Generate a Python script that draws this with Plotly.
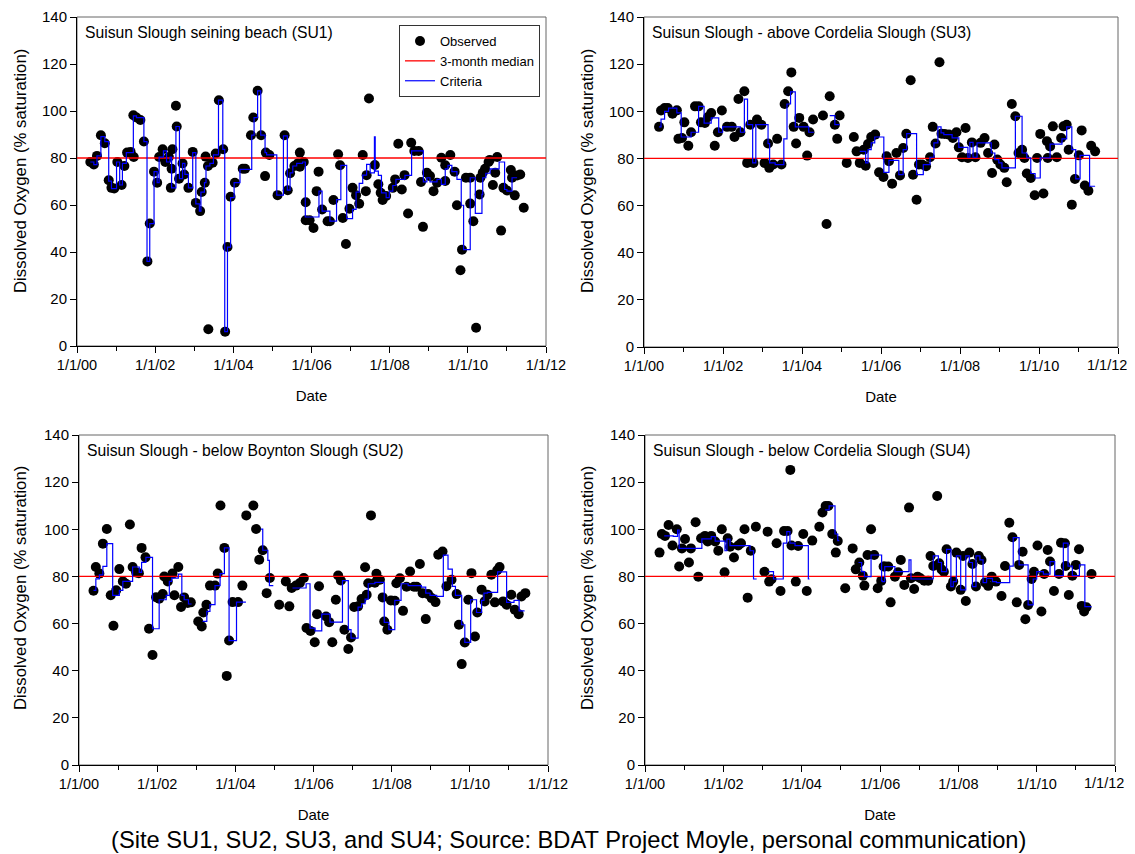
import datetime as dt
import plotly.graph_objects as go

# ---------------- DATA (decimal years, % saturation) ----------------
titles = [
    "Suisun Slough seining beach (SU1)",
    "Suisun Slough - above Cordelia Slough (SU3)",
    "Suisun Slough - below Boynton Slough (SU2)",
    "Suisun Slough - below Cordelia Slough (SU4)",
]
y_title = "Dissolved Oxygen (% saturation)"
x_title = "Date"
caption = "(Site SU1, SU2, SU3, and SU4; Source: BDAT Project Moyle, personal communication)"
threshold = 80
x_tick_labels_years = [2000, 2002, 2004, 2006, 2008, 2010, 2012]

# Panel 1 : SU1
su1_t = [2000.34, 2000.43, 2000.51, 2000.61, 2000.71, 2000.81, 2000.88, 2000.95, 2001.03, 2001.14,
         2001.21, 2001.28, 2001.37, 2001.45, 2001.44, 2001.52, 2001.62, 2001.71, 2001.80, 2001.86,
         2001.97, 2002.05, 2002.10, 2002.19, 2002.26, 2002.35, 2002.40, 2002.42, 2002.44, 2002.53,
         2002.55, 2002.61, 2002.70, 2002.74, 2002.85, 2002.96, 2003.04, 2003.15, 2003.19, 2003.27,
         2003.29, 2003.35, 2003.36, 2003.47, 2003.55, 2003.63, 2003.74, 2003.79, 2003.85, 2003.93,
         2004.04, 2004.24, 2004.30, 2004.45, 2004.51, 2004.62, 2004.71, 2004.83, 2004.81, 2004.92,
         2005.13, 2005.31, 2005.39, 2005.45, 2005.56, 2005.65, 2005.70, 2005.70, 2005.80, 2005.85,
         2005.85, 2005.95, 2006.05, 2006.18, 2006.13, 2006.27, 2006.41, 2006.47, 2006.56, 2006.68,
         2006.73, 2006.80, 2006.88, 2006.97, 2007.05, 2007.14, 2007.22, 2007.31, 2007.39, 2007.41,
         2007.47, 2007.62, 2007.71, 2007.77, 2007.82, 2007.91, 2008.08, 2008.14, 2008.22, 2008.31,
         2008.38, 2008.47, 2008.55, 2008.63, 2008.74, 2008.80, 2008.85, 2008.95, 2009.03, 2009.12,
         2009.21, 2009.32, 2009.42, 2009.42, 2009.55, 2009.66, 2009.72, 2009.81, 2009.85, 2009.95,
         2010.06, 2010.06, 2010.14, 2010.21, 2010.30, 2010.32, 2010.38, 2010.44, 2010.53, 2010.56,
         2010.64, 2010.70, 2010.75, 2010.85, 2010.91, 2011.00, 2011.10, 2011.13, 2011.20, 2011.26,
         2011.34, 2011.43]
su1_v = [78.3, 77.2, 80.9, 89.7, 86.3, 70.5, 67.3, 67.0, 78.3, 68.5,
         76.6, 82.3, 82.6, 80.4, 98.2, 97.2, 96.2, 87.0, 36.0, 52.1,
         74.2, 69.5, 80.4, 83.7, 78.3, 80.4, 67.3, 75.4, 83.7, 102.2,
         93.4, 71.2, 77.7, 73.0, 67.3, 82.6, 60.9, 57.4, 65.5, 69.5,
         80.6, 76.6, 7.1, 78.0, 81.9, 104.6, 83.7, 6.1, 42.1, 63.5,
         69.5, 75.4, 75.4, 89.7, 97.2, 108.6, 89.7, 82.3, 72.3, 81.3,
         64.2, 89.7, 66.3, 73.5, 76.6, 77.7, 82.3, 76.3, 78.3, 61.2,
         53.5, 53.5, 50.2, 74.2, 65.9, 58.1, 53.1, 53.1, 62.1, 81.6,
         76.9, 54.5, 43.4, 58.4, 67.3, 64.2, 60.5, 81.3, 65.9, 72.7,
         105.3, 77.0, 68.8, 65.2, 62.1, 63.8, 67.3, 70.9, 86.1, 66.6,
         72.7, 56.4, 86.5, 83.0, 83.0, 69.8, 50.7, 73.7, 72.3, 65.9,
         69.5, 80.1, 76.9, 70.2, 81.3, 74.2, 59.9, 32.2, 41.0, 71.6,
         71.6, 60.6, 53.1, 7.8, 64.5, 71.6, 73.7, 75.4, 78.3, 79.2,
         68.5, 73.7, 80.4, 49.1, 67.3, 66.2, 74.9, 71.6, 64.1, 72.6,
         73.0, 58.8]
su1_ct = [2000.34, 2000.43, 2000.51, 2000.61, 2000.71, 2000.81, 2000.88, 2001.01, 2001.09, 2001.16,
          2001.26, 2001.44, 2001.52, 2001.71, 2001.79, 2001.86, 2001.97, 2002.05, 2002.10, 2002.21,
          2002.29, 2002.38, 2002.42, 2002.53, 2002.62, 2002.70, 2002.76, 2002.85, 2002.96, 2003.04,
          2003.13, 2003.17, 2003.26, 2003.30, 2003.40, 2003.49, 2003.62, 2003.73, 2003.78, 2003.85,
          2003.93, 2004.02, 2004.17, 2004.47, 2004.53, 2004.62, 2004.70, 2004.81, 2004.85, 2005.11,
          2005.28, 2005.38, 2005.45, 2005.52, 2005.62, 2005.77, 2005.84, 2006.19, 2006.27, 2006.47,
          2006.64, 2006.75, 2006.90, 2007.05, 2007.14, 2007.22, 2007.31, 2007.41, 2007.50, 2007.61,
          2007.63, 2007.71, 2007.79, 2007.91, 2007.99, 2008.08, 2008.16, 2008.39, 2008.56, 2008.86,
          2008.95, 2009.03, 2009.21, 2009.32, 2009.42, 2009.49, 2009.59, 2009.72, 2009.83, 2009.89,
          2010.06, 2010.19, 2010.36, 2010.38, 2010.46, 2010.57, 2010.80, 2010.94, 2011.00, 2011.13,
          2011.26]
su1_cv = [78.3, 77.2, 80.9, 89.1, 87.0, 70.2, 67.0, 78.3, 68.5, 77.7,
          82.3, 97.9, 97.2, 87.0, 36.0, 52.1, 74.2, 69.5, 80.4, 83.0,
          78.3, 80.4, 67.3, 93.4, 71.2, 77.7, 73.0, 67.3, 82.3, 60.5,
          57.4, 65.5, 69.5, 76.6, 77.7, 81.3, 104.6, 83.7, 6.1, 42.1,
          63.1, 69.5, 75.2, 89.7, 97.2, 108.6, 89.7, 82.3, 81.3, 64.2,
          89.4, 66.3, 73.7, 76.6, 77.7, 78.3, 54.9, 65.9, 57.4, 53.1,
          62.3, 76.9, 54.2, 58.1, 65.5, 69.2, 72.7, 77.3, 73.7, 89.0,
          74.4, 72.6, 65.2, 63.1, 65.9, 68.3, 70.9, 72.6, 83.0, 69.8,
          71.6, 69.8, 70.9, 68.8, 75.4, 76.9, 74.2, 70.9, 59.9, 41.0,
          71.6, 56.4, 64.5, 71.6, 73.5, 75.4, 78.3, 66.6, 65.9, 71.6,
          71.6]

# Panel 2 : SU3
su3_t = [2000.38, 2000.43, 2000.52, 2000.60, 2000.72, 2000.83, 2000.87, 2000.96, 2001.02, 2001.12,
         2001.19, 2001.29, 2001.38, 2001.44, 2001.54, 2001.62, 2001.70, 2001.79, 2001.87, 2001.97,
         2002.10, 2002.22, 2002.29, 2002.39, 2002.44, 2002.54, 2002.61, 2002.69, 2002.77, 2002.86,
         2002.97, 2003.05, 2003.14, 2003.17, 2003.27, 2003.37, 2003.48, 2003.56, 2003.65, 2003.73,
         2003.79, 2003.85, 2003.93, 2004.04, 2004.13, 2004.19, 2004.28, 2004.53, 2004.62, 2004.70,
         2004.83, 2004.89, 2004.95, 2005.13, 2005.31, 2005.38, 2005.46, 2005.56, 2005.61, 2005.67,
         2005.75, 2005.85, 2005.95, 2006.06, 2006.14, 2006.20, 2006.28, 2006.39, 2006.48, 2006.56,
         2006.64, 2006.75, 2006.81, 2006.90, 2006.96, 2007.04, 2007.14, 2007.24, 2007.31, 2007.38,
         2007.48, 2007.53, 2007.61, 2007.72, 2007.82, 2007.91, 2007.97, 2008.05, 2008.14, 2008.20,
         2008.30, 2008.39, 2008.52, 2008.62, 2008.71, 2008.81, 2008.87, 2008.94, 2009.02, 2009.12,
         2009.18, 2009.31, 2009.40, 2009.48, 2009.57, 2009.63, 2009.69, 2009.79, 2009.89, 2009.95,
         2010.03, 2010.11, 2010.20, 2010.22, 2010.28, 2010.35, 2010.45, 2010.56, 2010.62, 2010.70,
         2010.75, 2010.83, 2010.91, 2011.01, 2011.08, 2011.16, 2011.25, 2011.32, 2011.42]
su3_v = [93.4, 100.3, 101.4, 101.4, 99.0, 100.4, 88.3, 88.7, 95.3, 85.4,
         91.1, 102.1, 102.1, 95.3, 95.0, 97.6, 99.3, 85.4, 91.1, 100.3,
         93.4, 93.4, 89.1, 105.2, 91.1, 108.5, 78.1, 94.3, 78.1, 96.5,
         94.3, 78.1, 86.3, 76.0, 77.4, 88.3, 77.4, 103.1, 108.5, 116.5,
         93.4, 86.3, 97.2, 93.4, 81.2, 91.1, 96.5, 98.2, 52.2, 106.4,
         94.3, 88.3, 98.2, 78.1, 89.1, 83.0, 78.1, 83.7, 76.9, 86.1,
         89.1, 90.1, 74.1, 72.1, 80.9, 78.8, 69.3, 82.3, 72.8, 84.4,
         90.5, 113.2, 73.1, 62.5, 77.4, 77.4, 76.7, 80.5, 93.4, 86.3,
         120.8, 90.5, 90.4, 90.1, 88.7, 91.1, 84.7, 80.5, 92.9, 80.2,
         86.8, 80.5, 86.6, 88.7, 82.3, 73.8, 85.9, 79.5, 77.4, 76.0,
         69.9, 103.1, 97.9, 82.3, 83.7, 80.2, 73.6, 71.7, 64.4, 80.2,
         90.4, 65.1, 87.3, 80.2, 85.1, 93.6, 80.5, 88.7, 93.6, 94.3,
         83.7, 60.4, 71.3, 81.3, 91.9, 68.5, 66.3, 85.4, 83.0]
su3_ct = [2000.38, 2000.43, 2000.52, 2000.62, 2000.83, 2000.94, 2001.19, 2001.38, 2001.52, 2001.70,
          2001.89, 2001.99, 2002.44, 2002.54, 2002.62, 2002.75, 2002.83, 2003.14, 2003.18, 2003.32,
          2003.54, 2003.62, 2003.71, 2003.83, 2004.17, 2004.30, 2004.30, 2004.70, 2004.83, 2004.95,
          2004.95, 2005.46, 2005.61, 2005.67, 2005.75, 2005.84, 2006.07, 2006.20, 2006.45, 2006.56,
          2006.65, 2006.90, 2007.07, 2007.24, 2007.34, 2007.44, 2007.52, 2007.59, 2007.80, 2007.97,
          2008.20, 2008.25, 2008.33, 2008.43, 2008.79, 2008.88, 2008.98, 2009.06, 2009.40, 2009.57,
          2009.69, 2009.79, 2009.90, 2010.03, 2010.28, 2010.58, 2010.70, 2010.83, 2010.93, 2011.04,
          2011.28, 2011.42]
su3_cv = [93.4, 96.7, 100.0, 101.3, 99.3, 89.1, 91.1, 102.1, 95.0, 97.2,
          91.1, 93.4, 91.1, 105.2, 94.3, 78.1, 94.3, 86.3, 78.1, 77.4,
          88.3, 103.1, 108.2, 93.4, 91.1, 91.1, None, 98.2, 94.3, 94.3,
          None, 83.0, 78.1, 83.7, 86.6, 89.1, 74.1, 79.2, 73.1, 83.7,
          90.5, 73.1, 77.4, 80.5, 86.6, 93.4, 90.8, 90.1, 88.7, 84.7,
          80.5, 86.8, 80.5, 86.6, 82.3, 79.5, 78.1, 76.0, 97.9, 82.3,
          80.2, 73.6, 71.7, 80.2, 86.1, 88.3, 93.4, 83.7, 71.3, 81.3,
          68.2, 68.2]

# Panel 3 : SU2
su2_t = [2000.37, 2000.43, 2000.52, 2000.61, 2000.71, 2000.81, 2000.88, 2000.95, 2001.03, 2001.12,
         2001.20, 2001.30, 2001.37, 2001.46, 2001.53, 2001.60, 2001.70, 2001.79, 2001.88, 2001.97,
         2002.05, 2002.14, 2002.18, 2002.27, 2002.39, 2002.44, 2002.54, 2002.61, 2002.69, 2002.78,
         2002.86, 2003.05, 2003.14, 2003.18, 2003.26, 2003.35, 2003.48, 2003.55, 2003.62, 2003.72,
         2003.78, 2003.84, 2003.93, 2004.07, 2004.18, 2004.28, 2004.46, 2004.53, 2004.61, 2004.70,
         2004.80, 2004.88, 2005.12, 2005.29, 2005.38, 2005.44, 2005.55, 2005.65, 2005.75, 2005.82,
         2005.92, 2006.03, 2006.14, 2006.09, 2006.32, 2006.40, 2006.48, 2006.57, 2006.63, 2006.70,
         2006.79, 2006.89, 2006.96, 2007.04, 2007.14, 2007.23, 2007.32, 2007.36, 2007.40, 2007.47,
         2007.57, 2007.61, 2007.70, 2007.77, 2007.81, 2007.89, 2007.98, 2008.08, 2008.12, 2008.21,
         2008.29, 2008.38, 2008.47, 2008.57, 2008.64, 2008.72, 2008.79, 2008.87, 2008.93, 2009.02,
         2009.12, 2009.19, 2009.30, 2009.40, 2009.53, 2009.66, 2009.72, 2009.79, 2009.87, 2009.96,
         2010.04, 2010.13, 2010.19, 2010.30, 2010.38, 2010.45, 2010.55, 2010.64, 2010.70, 2010.76,
         2010.85, 2010.94, 2011.06, 2011.15, 2011.25, 2011.32, 2011.42]
su2_v = [73.9, 84.0, 81.2, 93.9, 100.1, 72.0, 59.1, 74.1, 83.1, 77.9,
         76.9, 102.0, 84.0, 81.7, 81.4, 92.1, 88.1, 57.8, 46.7, 71.2,
         70.5, 72.5, 80.0, 77.9, 81.2, 72.0, 84.0, 67.0, 71.1, 68.7,
         69.0, 60.9, 58.8, 64.7, 68.0, 76.1, 76.1, 81.2, 110.1, 92.1,
         37.8, 52.8, 69.1, 69.1, 76.1, 105.9, 110.1, 100.1, 87.1, 91.1,
         72.9, 79.3, 68.0, 77.9, 67.3, 75.1, 76.1, 77.2, 79.3, 58.1,
         56.9, 52.1, 75.8, 64.0, 63.0, 60.6, 52.1, 70.1, 80.4, 78.3,
         57.4, 49.2, 54.1, 67.0, 67.3, 70.4, 83.9, 72.2, 77.1, 105.9,
         77.3, 81.1, 78.6, 71.1, 60.9, 57.4, 69.8, 69.7, 77.1, 79.2,
         65.4, 75.6, 82.1, 75.6, 75.6, 85.3, 72.9, 61.9, 72.5, 70.8,
         69.1, 89.2, 90.6, 75.8, 78.6, 72.5, 59.5, 42.8, 52.0, 70.1,
         81.4, 54.5, 64.7, 74.4, 69.4, 72.2, 80.7, 69.0, 82.6, 84.0,
         69.4, 68.0, 72.2, 65.9, 64.0, 71.5, 72.9]
su2_ct = [2000.37, 2000.43, 2000.52, 2000.61, 2000.71, 2000.86, 2001.03, 2001.12, 2001.37, 2001.54,
          2001.60, 2001.71, 2001.88, 2002.05, 2002.23, 2002.31, 2002.37, 2002.54, 2002.63, 2002.69,
          2002.80, 2002.88, 2002.88, 2003.16, 2003.27, 2003.35, 2003.48, 2003.61, 2003.72, 2003.84,
          2004.03, 2004.27, 2004.27, 2004.65, 2004.70, 2004.83, 2004.87, 2004.97, 2004.97, 2005.46,
          2005.81, 2005.91, 2006.04, 2006.21, 2006.42, 2006.74, 2006.89, 2006.96, 2007.14, 2007.23,
          2007.32, 2007.40, 2007.57, 2007.81, 2007.93, 2008.08, 2008.24, 2008.42, 2008.76, 2008.87,
          2008.98, 2009.15, 2009.32, 2009.44, 2009.55, 2009.63, 2009.79, 2009.87, 2010.02, 2010.17,
          2010.30, 2010.36, 2010.45, 2010.71, 2010.94, 2011.13, 2011.26, 2011.40]
su2_cv = [74.1, 79.0, 80.7, 84.3, 93.9, 72.0, 74.1, 77.9, 84.0, 81.7,
          86.0, 88.1, 57.8, 70.1, 72.0, 77.9, 79.3, 81.0, 72.0, 70.1,
          68.3, 68.3, None, 60.9, 65.2, 68.0, 76.1, 81.2, 92.1, 52.8,
          69.1, 69.1, None, 100.1, 91.1, 86.8, 76.1, 76.1, None, 75.1,
          76.9, 58.1, 56.9, 64.0, 60.6, 78.2, 57.4, 53.8, 67.0, 68.4,
          70.4, 76.9, 77.5, 60.5, 57.4, 69.8, 76.9, 76.1, 75.5, 72.9,
          72.0, 71.5, 89.0, 83.1, 75.8, 72.0, 59.5, 52.0, 70.1, 64.7,
          69.8, 72.9, 73.2, 81.9, 69.0, 69.8, 65.4, 65.4]

# Panel 4 : SU4
su4_t = [2000.37, 2000.43, 2000.51, 2000.60, 2000.70, 2000.81, 2000.87, 2000.94, 2001.02, 2001.12,
         2001.17, 2001.29, 2001.36, 2001.43, 2001.53, 2001.60, 2001.69, 2001.79, 2001.87, 2001.96,
         2002.03, 2002.11, 2002.17, 2002.27, 2002.38, 2002.45, 2002.54, 2002.62, 2002.70, 2002.83,
         2003.05, 2003.13, 2003.17, 2003.23, 2003.36, 2003.46, 2003.55, 2003.64, 2003.71, 2003.74,
         2003.85, 2003.91, 2004.04, 2004.13, 2004.27, 2004.45, 2004.53, 2004.61, 2004.68, 2004.78,
         2004.87, 2004.92, 2005.11, 2005.30, 2005.38, 2005.47, 2005.56, 2005.60, 2005.68, 2005.77,
         2005.85, 2005.94, 2006.03, 2006.09, 2006.12, 2006.21, 2006.27, 2006.38, 2006.46, 2006.53,
         2006.62, 2006.74, 2006.79, 2006.87, 2006.96, 2007.03, 2007.13, 2007.23, 2007.29, 2007.36,
         2007.46, 2007.51, 2007.57, 2007.63, 2007.70, 2007.81, 2007.87, 2007.95, 2008.06, 2008.12,
         2008.19, 2008.28, 2008.36, 2008.45, 2008.52, 2008.59, 2008.68, 2008.76, 2008.85, 2008.96,
         2009.10, 2009.19, 2009.30, 2009.38, 2009.49, 2009.55, 2009.64, 2009.71, 2009.78, 2009.87,
         2009.93, 2010.02, 2010.12, 2010.19, 2010.28, 2010.34, 2010.44, 2010.57, 2010.62, 2010.72,
         2010.74, 2010.82, 2010.91, 2011.00, 2011.08, 2011.15, 2011.21, 2011.27, 2011.40]
su4_v = [90.1, 98.0, 97.2, 101.8, 93.1, 100.0, 84.2, 91.9, 95.9, 85.9,
         91.9, 103.0, 79.9, 96.2, 97.2, 94.8, 97.2, 94.8, 90.9, 100.0,
         81.8, 96.2, 92.6, 88.0, 93.1, 94.1, 100.0, 71.0, 90.9, 101.1,
         82.0, 99.0, 77.8, 78.8, 94.1, 73.8, 99.3, 99.3, 125.2, 93.1,
         77.8, 92.9, 98.0, 73.8, 95.2, 101.1, 107.1, 109.9, 109.9, 98.0,
         90.1, 95.0, 75.0, 91.9, 83.0, 85.9, 80.3, 76.1, 89.1, 100.0,
         89.1, 75.0, 78.1, 84.2, 84.2, 84.2, 69.0, 79.9, 81.8, 87.0,
         76.4, 109.2, 79.2, 74.7, 79.9, 79.2, 78.2, 78.2, 88.7, 84.4,
         114.1, 85.6, 83.0, 82.0, 91.5, 75.7, 77.8, 90.1, 74.3, 88.7,
         69.6, 90.1, 85.3, 75.7, 88.7, 87.0, 77.4, 76.0, 79.9, 77.8,
         71.7, 84.4, 102.8, 96.6, 69.0, 84.9, 90.5, 61.8, 67.9, 78.9,
         82.0, 93.1, 65.1, 81.0, 91.2, 86.3, 73.8, 81.0, 94.3, 94.1,
         84.4, 72.1, 80.3, 84.9, 91.5, 67.5, 65.1, 66.9, 81.0]
su4_ct = [2000.49, 2000.72, 2000.83, 2000.87, 2001.45, 2001.69, 2001.79, 2002.04, 2002.09, 2002.17,
          2002.68, 2002.77, 2002.85, 2002.85, 2003.15, 2003.28, 2003.53, 2003.62, 2003.70, 2003.83,
          2004.17, 2004.20, 2004.20, 2004.60, 2004.70, 2004.85, 2004.92, 2004.96, 2004.96, 2005.45,
          2005.53, 2005.60, 2005.77, 2006.04, 2006.06, 2006.12, 2006.38, 2006.74, 2006.79, 2007.36,
          2007.49, 2007.57, 2007.70, 2007.81, 2007.87, 2007.95, 2008.06, 2008.19, 2008.28, 2008.36,
          2008.45, 2008.55, 2008.63, 2008.72, 2008.87, 2008.97, 2009.31, 2009.40, 2009.55, 2009.78,
          2009.91, 2010.00, 2010.17, 2010.34, 2010.46, 2010.68, 2010.80, 2010.91, 2011.09, 2011.23,
          2011.40]
su4_cv = [97.2, 97.0, 99.7, 91.9, 95.9, 96.9, 95.0, 90.9, 95.8, 93.1,
          90.9, 78.9, 78.9, None, 82.0, 78.9, 94.1, 99.0, 94.1, 93.1,
          78.9, 78.9, None, 108.2, 109.9, 98.0, 95.2, 95.2, None, 85.9,
          82.0, 79.9, 89.1, 78.1, 77.8, 84.2, 82.0, 87.0, 78.9, 88.7,
          85.9, 82.0, 91.5, 75.7, 77.8, 88.7, 74.3, 88.7, 85.9, 75.7,
          88.7, 87.0, 77.4, 79.2, 77.8, 77.4, 84.4, 96.5, 84.9, 67.9,
          78.9, 82.0, 81.0, 86.3, 80.3, 94.1, 84.4, 80.3, 84.9, 67.2,
          67.2]

panels = [
    (su1_t, su1_v, su1_ct, su1_cv),
    (su3_t, su3_v, su3_ct, su3_cv),
    (su2_t, su2_v, su2_ct, su2_cv),
    (su4_t, su4_v, su4_ct, su4_cv),
]


def to_date(y):
    yr = int(y)
    frac = y - yr
    start = dt.datetime(yr, 1, 1)
    end = dt.datetime(yr + 1, 1, 1)
    return start + (end - start) * frac


def tick_label(y):
    return "1/1/%02d" % (y % 100)


# ---------------- LAYOUT (pixel boxes, in window coordinates) ----------------
WIN_W, WIN_H = 1135, 854
OFF = 8                     # page body margin of the html page
W, H = WIN_W - OFF, WIN_H - OFF   # figure fits inside the window without scrolling
ML, MR, MT, MB = 30, 2, 2, 30
PW, PH = W - ML - MR, H - MT - MB
boxes = [  # left, right, top, bottom in px (window coordinates)
    (77, 546, 17, 346),
    (644, 1118, 17, 347),
    (79, 548, 435, 765),
    (645, 1115, 435, 765),
]
ytitle_pos = [(20, 171), (587, 171), (20, 588), (587, 588)]
right_panel = [False, True, False, True]
TICK_FONT = 14.5


def dx(px):
    return (px - OFF - ML) / PW


def dy(py):
    return (H - MB - (py - OFF)) / PH


FONT = "Liberation Sans, Arial, sans-serif"
fig = go.Figure()

for i, (t, v, ct, cv) in enumerate(panels):
    n = "" if i == 0 else str(i + 1)
    xa, ya = "x" + n, "y" + n
    show = i == 0
    fig.add_trace(go.Scatter(
        x=[to_date(a) for a in t], y=v, mode="markers", name="Observed",
        marker=dict(color="black", size=10, line=dict(width=0)),
        xaxis=xa, yaxis=ya, showlegend=show, legendrank=1))
    fig.add_trace(go.Scatter(
        x=[to_date(2000), to_date(2012)], y=[threshold, threshold], mode="lines",
        name="3-month median", line=dict(color="#ff0000", width=1.3),
        xaxis=xa, yaxis=ya, showlegend=show, legendrank=2))
    fig.add_trace(go.Scatter(
        x=[to_date(a) for a in ct], y=cv, mode="lines", name="Criteria",
        line=dict(color="#0000ff", width=1.2, shape="hv"), connectgaps=False,
        xaxis=xa, yaxis=ya, showlegend=show, legendrank=3))

    l, r, tp, b = boxes[i]
    xkey = "xaxis" + n
    ykey = "yaxis" + n
    texts = [tick_label(y) for y in x_tick_labels_years]
    if right_panel[i]:
        texts[-1] = ""      # drawn separately so it stays inside the page edge
    fig.layout[xkey] = dict(
        domain=[dx(l), dx(r)], anchor=ya, type="date", automargin=False,
        range=[to_date(2000), to_date(2012)],
        tickmode="array",
        tickvals=[to_date(y) for y in x_tick_labels_years],
        ticktext=texts,
        ticks="outside", ticklen=6, tickcolor="black", tickwidth=1,
        minor=dict(ticks="outside", ticklen=4, dtick="M12", tick0="2001-01-01",
                   tickcolor="black", showgrid=False),
        showline=True, linecolor="black", linewidth=1, mirror=False,
        showgrid=False, zeroline=False,
        tickfont=dict(family=FONT, size=TICK_FONT, color="black"),
        title=dict(text=x_title, font=dict(family=FONT, size=15, color="black"), standoff=18),
    )
    fig.layout[ykey] = dict(
        domain=[dy(b), dy(tp)], anchor=xa, automargin=False,
        range=[0, 140], dtick=20, tick0=0,
        ticks="outside", ticklen=6, tickcolor="black", tickwidth=1,
        showline=True, linecolor="black", linewidth=1, mirror=False,
        showgrid=False, zeroline=False,
        tickfont=dict(family=FONT, size=15, color="black"),
    )
    if right_panel[i]:
        fig.add_annotation(
            text=tick_label(x_tick_labels_years[-1]), xref=xa + " domain", yref=ya + " domain",
            x=1.0, y=0, xanchor="right", yanchor="top", xshift=11, yshift=-8,
            showarrow=False, font=dict(family=FONT, size=TICK_FONT, color="black"))
    fig.add_shape(type="rect", xref=xa + " domain", yref=ya + " domain",
                  x0=0, x1=1, y0=0, y1=1, line=dict(color="#666666", width=1),
                  layer="below")
    fig.add_annotation(
        text=titles[i], xref=xa + " domain", yref=ya + " domain",
        x=0.012, y=0.985, xanchor="left", yanchor="top", showarrow=False,
        font=dict(family=FONT, size=15.7, color="black"))
    tx, ty = ytitle_pos[i]
    fig.add_annotation(
        text=y_title, xref="paper", yref="paper", x=dx(tx), y=dy(ty),
        xanchor="center", yanchor="middle", textangle=-90, showarrow=False,
        font=dict(family=FONT, size=16.8, color="black"))

fig.add_annotation(
    text=caption,
    xref="paper", yref="paper", x=dx(568), y=dy(840), xanchor="center", yanchor="middle",
    showarrow=False, font=dict(family=FONT, size=23.7, color="black"))

fig.update_layout(
    width=W, height=H, margin=dict(l=ML, r=MR, t=MT, b=MB, autoexpand=False),
    paper_bgcolor="white", plot_bgcolor="white",
    legend=dict(x=dx(540), y=dy(25), xanchor="right", yanchor="top",
                bgcolor="white", bordercolor="#333333", borderwidth=1,
                font=dict(family=FONT, size=13, color="black"),
                itemwidth=30, tracegroupgap=0),
)

fig.write_html("out.html")
